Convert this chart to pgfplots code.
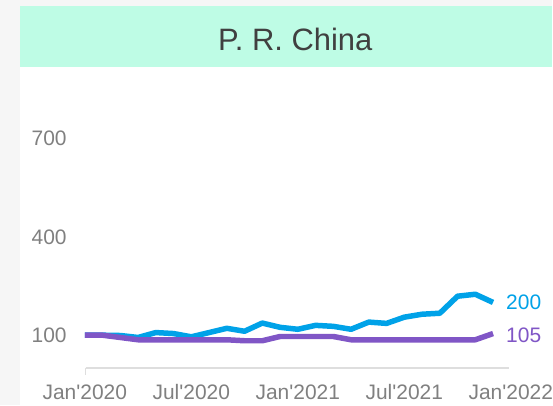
\documentclass[border=0pt]{standalone}
\usepackage{pgfplots}
\pgfplotsset{compat=1.18}
\usepackage{fontspec}
\setmainfont{Liberation Sans}
\definecolor{bgG}{RGB}{246,246,246}
\definecolor{titleG}{RGB}{190,252,229}
\definecolor{blueL}{RGB}{0,162,232}
\definecolor{purpL}{RGB}{128,86,198}
\definecolor{tickG}{RGB}{128,128,128}
\definecolor{titleT}{RGB}{64,64,64}
\definecolor{axG}{RGB}{222,222,222}
\begin{document}
\begin{tikzpicture}
\fill[bgG] (-85pt,-37.2pt) rectangle (468pt,368.8pt);
\fill[white] (-65pt,-37.2pt) rectangle (468pt,362.8pt);
\fill[titleG] (-65pt,301.8pt) rectangle (468pt,362.8pt);
\node[text=titleT, font=\fontsize{31}{36}\selectfont, inner sep=0pt] at (211pt,328.8pt) {P. R. China};
\begin{axis}[
  at={(0,0)}, anchor=south west,
  scale only axis, width=427pt, height=288.9pt,
  xmin=0, xmax=24, ymin=0, ymax=880,
  clip=false,
  axis x line*=bottom, axis y line*=left,
  y axis line style={draw=none},
  x axis line style={draw=axG, line width=1.2pt, shorten <=1pt, shorten >=2pt},
  major tick length=0pt,
  xtick={0,6,12,18,24},
  xticklabels={Jan\textquotesingle 2020,Jul\textquotesingle 2020,Jan\textquotesingle 2021,Jul\textquotesingle 2021,Jan\textquotesingle 2022},
  ytick={100,400,700},
  tick label style={font=\fontsize{21}{25}\selectfont, text=tickG, inner sep=0pt},
  xticklabel style={anchor=base, yshift=-32pt},
  yticklabel style={anchor=east, xshift=-18pt},
  /pgf/number format/assume math mode=true,
]
\draw[axG, line width=1.2pt] (axis cs:0.06,0) -- ++(0,-7pt);
\addplot[blueL, line width=5.5pt, line join=round] coordinates {
(0,100) (1,100) (2,99) (3,93) (4,108) (5,105) (6,95) (7,108) (8,121) (9,112) (10,137) (11,124)
(12,118) (13,130) (14,127) (15,118) (16,140) (17,136) (18,155) (19,164) (20,167) (21,219) (22,225) (23,200)};
\addplot[purpL, line width=5.5pt, line join=round] coordinates {
(0,100) (1,100) (2,93) (3,86) (4,86) (5,86) (6,86) (7,86) (8,86) (9,83) (10,83) (11,96)
(12,96) (13,96) (14,96) (15,86) (16,86) (17,86) (18,86) (19,86) (20,86) (21,86) (22,86) (23,105)};
\node[anchor=west, text=blueL, font=\fontsize{21}{25}\selectfont, inner sep=0pt, xshift=13pt] at (axis cs:23,200) {200};
\node[anchor=west, text=purpL, font=\fontsize{21}{25}\selectfont, inner sep=0pt, xshift=13pt] at (axis cs:23,100) {105};
\end{axis}
\end{tikzpicture}
\end{document}
